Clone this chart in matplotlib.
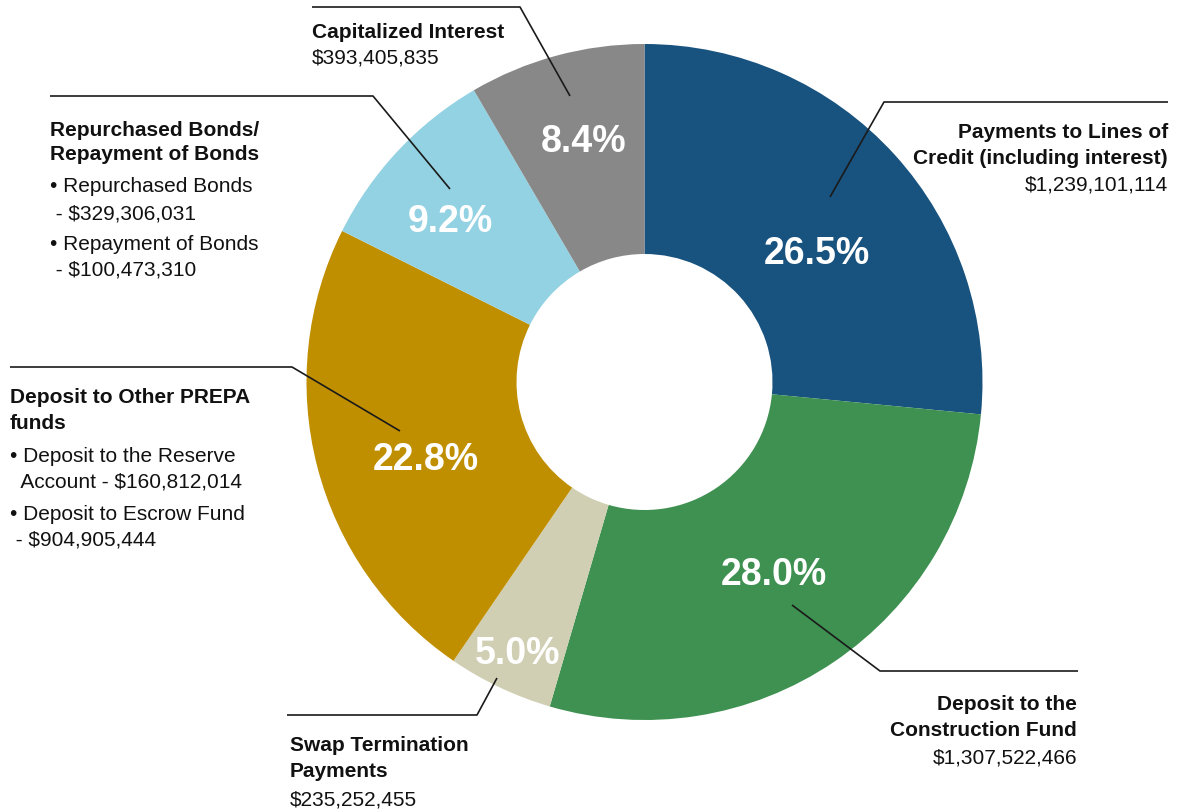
import numpy as np
import matplotlib
matplotlib.use("Agg")
import matplotlib.pyplot as plt

plt.rcParams['font.family'] = ['Liberation Sans', 'DejaVu Sans']

# ---- data ----
categories = ["Payments to Lines of Credit (including interest)",
              "Deposit to the Construction Fund",
              "Swap Termination Payments",
              "Deposit to Other PREPA funds",
              "Repurchased Bonds/ Repayment of Bonds",
              "Capitalized Interest"]
reserve_account = 160812014
escrow_fund = 904905444
repurchased_bonds = 329306031
repayment_bonds = 100473310
values = [1239101114, 1307522466, 235252455,
          reserve_account + escrow_fund,
          repurchased_bonds + repayment_bonds,
          393405835]
colors = ["#18527e", "#3e9150", "#d0cfb4", "#c08f00", "#93d2e2", "#878887"]

W, H = 1177, 812
def Y(p):
    return H - p

fig = plt.figure(figsize=(W / 100, H / 100), dpi=100)
ax = fig.add_axes([0, 0, 1, 1])

cx, cy, R, hole = 644.5, 383, 338, 128
wedges, texts, autotexts = ax.pie(
    values, radius=R, center=(cx, Y(cy)), startangle=90, counterclock=False,
    colors=colors, wedgeprops=dict(width=R - hole, linewidth=0),
    autopct=lambda p: f"{p:.1f}%", pctdistance=0.66,
    textprops=dict(color="white", fontsize=27, fontweight="bold"))

# reposition percentage labels
pct_r = [0.64, 0.68, 0.88, 0.685, 0.75, 0.74]
pct_shift = [-5, 0, 0, 4.5, 3, -1]
for w, t, fr, sh in zip(wedges, autotexts, pct_r, pct_shift):
    a = np.deg2rad((w.theta1 + w.theta2) / 2 + sh)
    t.set_position((cx + fr * R * np.cos(a), Y(cy) + fr * R * np.sin(a) - 2))
    t.set_ha("center"); t.set_va("center")

ax.set_xlim(0, W)
ax.set_ylim(0, H)
ax.set_aspect("auto")
ax.axis("off")

lc = "#1a1a1a"
def leader(pts):
    xs = [p[0] for p in pts]
    ys = [Y(p[1]) for p in pts]
    ax.plot(xs, ys, color=lc, lw=1.2, solid_capstyle="butt")

def txt(x, y, s, bold=False, ha="left", size=15):
    ax.text(x, Y(y), s, ha=ha, va="center", fontsize=size,
            fontweight="bold" if bold else "normal", color="#111111")

def money(v):
    return f"${v:,}"

# Capitalized Interest
leader([(312, 8), (520, 8), (570, 97)])
txt(312, 32, "Capitalized Interest", bold=True)
txt(312, 58, money(values[5]))

# Repurchased / Repayment
leader([(50, 97), (373, 97), (450, 190)])
txt(50, 130, "Repurchased Bonds/", bold=True)
txt(50, 155, "Repayment of Bonds", bold=True)
txt(50, 187, "• Repurchased Bonds")
txt(50, 214, f" - {money(repurchased_bonds)}")
txt(50, 245, "• Repayment of Bonds")
txt(50, 270, f" - {money(repayment_bonds)}")

# Deposit to Other PREPA funds
leader([(10, 368), (292, 368), (400, 432)])
txt(10, 398, "Deposit to Other PREPA", bold=True)
txt(10, 424, "funds", bold=True)
txt(10, 457, "• Deposit to the Reserve")
txt(10, 482, f"  Account - {money(reserve_account)}")
txt(10, 515, "• Deposit to Escrow Fund")
txt(10, 540, f" - {money(escrow_fund)}")

# Swap Termination
leader([(287, 716), (477, 716), (497, 679)])
txt(290, 746, "Swap Termination", bold=True)
txt(290, 772, "Payments", bold=True)
txt(290, 800, money(values[2]))

# Construction Fund
leader([(792, 606), (880, 672), (1078, 672)])
txt(1077, 705, "Deposit to the", bold=True, ha="right")
txt(1077, 731, "Construction Fund", bold=True, ha="right")
txt(1077, 758, money(values[1]), ha="right")

# Payments to Lines of Credit
leader([(830, 198), (884, 103), (1168, 103)])
txt(1168, 132, "Payments to Lines of", bold=True, ha="right")
txt(1168, 158, "Credit (including interest)", bold=True, ha="right")
txt(1168, 185, money(values[0]), ha="right")

fig.savefig("out.png", dpi=100, facecolor="white")
